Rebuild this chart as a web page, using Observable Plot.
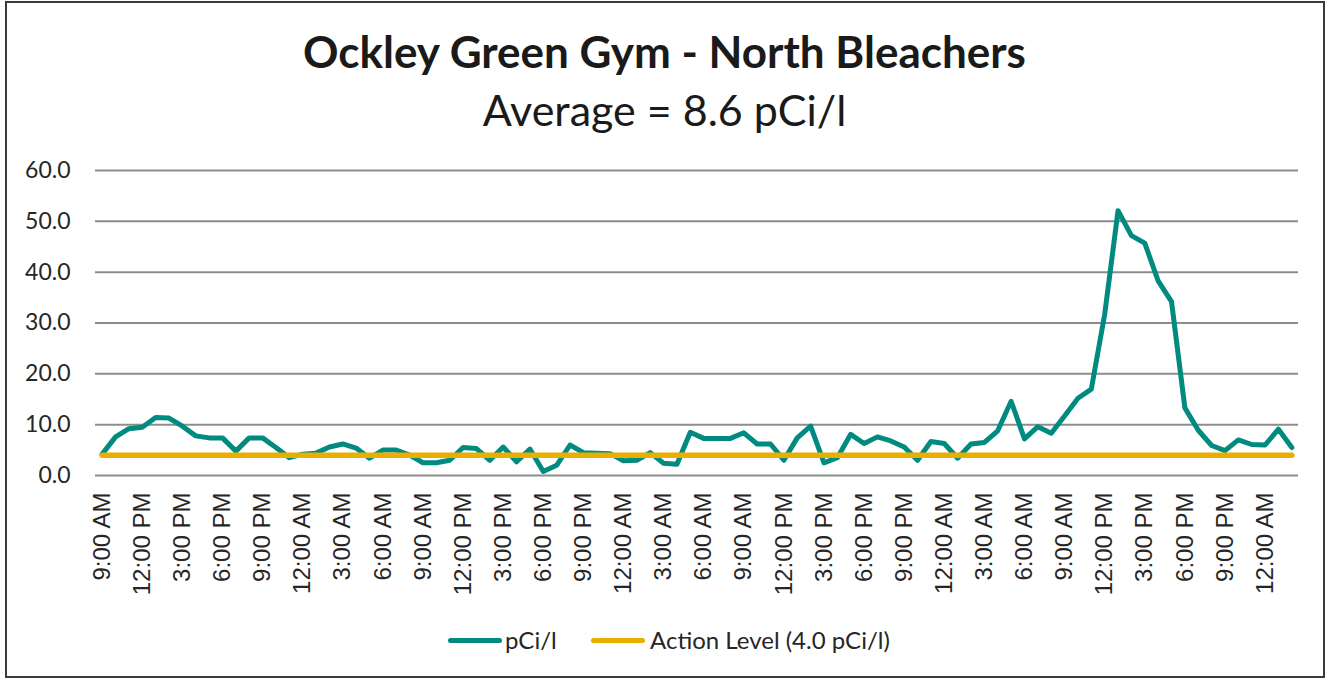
<!DOCTYPE html>
<html><head><meta charset="utf-8">
<script src="https://cdn.jsdelivr.net/npm/d3@7"></script>
<script src="https://cdn.jsdelivr.net/npm/@observablehq/plot@0.6"></script>
<style>
html,body{margin:0;padding:0;background:#fff;}
body{width:1329px;height:679px;overflow:hidden;position:relative;font-family:Lato,"Open Sans",sans-serif;color:#1a1a1a;}
#frame{position:absolute;left:5px;top:1px;width:1316px;height:673px;border:2px solid #3a3a3a;box-sizing:content-box;pointer-events:none;}
#title{position:absolute;left:0;width:1329px;top:24px;text-align:center;font-weight:bold;font-size:44px;line-height:54px;}
#subtitle{position:absolute;left:0;width:1329px;top:83px;text-align:center;font-size:43px;line-height:54px;}
#chart{position:absolute;left:0;top:150px;}
#legend{position:absolute;left:0;top:624px;width:1329px;height:32px;}
.lg{position:absolute;top:0;font-size:24px;line-height:32px;color:#262626;white-space:nowrap;}
.sw{position:absolute;top:14px;height:5px;border-radius:3px;}
</style>
</head><body>
<div id="title">Ockley Green Gym - North Bleachers</div>
<div id="subtitle">Average = 8.6 pCi/l</div>
<div id="chart"></div>
<div id="legend"></div>
<div id="frame"></div>
<script>
// Hourly radon readings (pCi/l), starting 9:00 AM
const values = [
  4.2, 7.6, 9.2, 9.5, 11.4, 11.3, 9.7, 7.8, 7.4, 7.4, 4.8, 7.4, 7.4, 5.5, 3.5, 4.2, 4.4, 5.6,
  6.2, 5.4, 3.4, 5.0, 5.0, 4.0, 2.5, 2.5, 3.0, 5.5, 5.3, 3.0, 5.6, 2.7, 5.2, 0.8, 2.0, 6.0,
  4.5, 4.4, 4.3, 2.9, 3.0, 4.5, 2.4, 2.2, 8.5, 7.3, 7.3, 7.3, 8.4, 6.2, 6.2, 3.0, 7.4, 9.7,
  2.5, 3.5, 8.1, 6.3, 7.6, 6.8, 5.6, 3.0, 6.7, 6.3, 3.4, 6.2, 6.5, 8.8, 14.6, 7.2, 9.6, 8.3,
  11.7, 15.2, 17.0, 31.7, 52.1, 47.2, 45.7, 38.3, 34.2, 13.3, 8.9, 5.9, 4.9, 7.0, 6.1, 6.0, 9.1, 5.5
];
const actionLevel = 4.0;
// x tick labels, one every 3 hourly readings
const tickLabels = [
  "9:00 AM","12:00 PM","3:00 PM","6:00 PM","9:00 PM","12:00 AM","3:00 AM","6:00 AM",
  "9:00 AM","12:00 PM","3:00 PM","6:00 PM","9:00 PM","12:00 AM","3:00 AM","6:00 AM",
  "9:00 AM","12:00 PM","3:00 PM","6:00 PM","9:00 PM","12:00 AM","3:00 AM","6:00 AM",
  "9:00 AM","12:00 PM","3:00 PM","6:00 PM","9:00 PM","12:00 AM"
];
const tickStep = 3;
const yTicks = [0, 10, 20, 30, 40, 50, 60];
const seriesNames = ["pCi/l", "Action Level (4.0 pCi/l)"];
const colors = ["#008a80", "#e8ae00"];

const data = values.map((v, i) => ({i, v, a: actionLevel}));
const idx = data.map(d => d.i);
const ticks = tickLabels.map((label, k) => ({i: k * tickStep, label}));

const plot = Plot.plot({
  width: 1329,
  height: 460,
  marginTop: 20,
  marginBottom: 135,
  marginLeft: 95,
  marginRight: 31,
  style: {background: "transparent", overflow: "visible"},
  x: {type: "point", domain: idx, padding: 0.5, axis: null},
  y: {domain: [0, 60]},
  marks: [
    Plot.ruleY(yTicks, {stroke: "#8c8c8c", strokeWidth: 2}),
    Plot.axisY({ticks: yTicks, tickFormat: d => d.toFixed(1), tickSize: 0, tickPadding: 25,
      fontSize: 23, fontFamily: "Lato, sans-serif", fill: "#262626", label: null}),
    Plot.text(ticks, {x: "i", text: "label", frameAnchor: "bottom", rotate: -90, textAnchor: "end",
      lineAnchor: "middle", dy: 17, fontSize: 24, fontFamily: "Liberation Sans, Arial, sans-serif", fill: "#262626"}),
    Plot.line(data, {x: "i", y: "v", stroke: colors[0], strokeWidth: 5, strokeLinejoin: "round", strokeLinecap: "round"}),
    Plot.line(data, {x: "i", y: "a", stroke: colors[1], strokeWidth: 5.5, strokeLinecap: "round"})
  ]
});
document.getElementById("chart").appendChild(plot);

// Legend
const legend = document.getElementById("legend");
const items = [{sw: 448, tx: 505}, {sw: 591, tx: 650}];
items.forEach((it, k) => {
  const s = document.createElement("div");
  s.className = "sw";
  s.style.left = it.sw + "px";
  s.style.width = "54px";
  s.style.background = colors[k];
  legend.appendChild(s);
  const t = document.createElement("div");
  t.className = "lg";
  t.style.left = it.tx + "px";
  t.textContent = seriesNames[k];
  legend.appendChild(t);
});
</script>
</body></html>
